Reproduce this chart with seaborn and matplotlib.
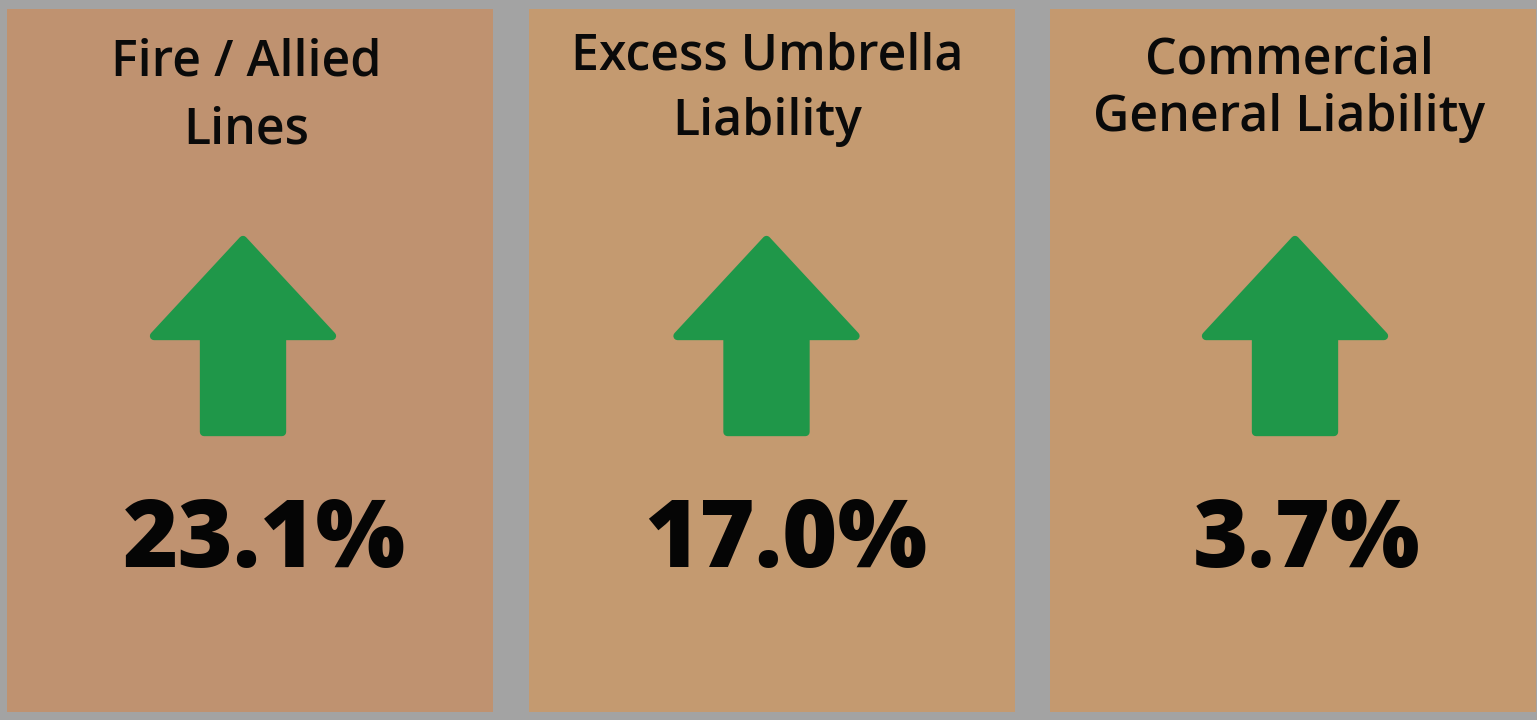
import matplotlib
matplotlib.use("Agg")
import matplotlib.pyplot as plt
from matplotlib.patches import Rectangle, Polygon
import seaborn as sns

# data
line_names = [["Fire / Allied", "Lines"],
              ["Excess Umbrella", "Liability"],
              ["Commercial", "General Liability"]]
changes = [23.1, 17.0, 3.7]
directions = ["up", "up", "up"]

# styles / layout
bg_color = "#a3a3a3"
card_colors = ["#bf9270", "#c49a70", "#c4996f"]
arrow_color = "#1f9749"
title_rows = [(62, 130), (56, 122), (60, 118)]
arrow_shift = [-7, -5, 2]

sns.set_style("white")
plt.rcParams["font.family"] = ["Open Sans", "DejaVu Sans"]

fig = plt.figure(figsize=(15.37, 7.2), dpi=100)
fig.patch.set_facecolor(bg_color)
ax = fig.add_axes([0, 0, 1, 1])
ax.set_xlim(0, 1537)
ax.set_ylim(720, 0)
ax.axis("off")

card_w, card_h, gap = 486, 703, 35.5
for i, (name, val, d) in enumerate(zip(line_names, changes, directions)):
    x0 = 7 + i * (card_w + gap)
    cx = x0 + card_w / 2
    ax.add_patch(Rectangle((x0, 9), card_w, card_h, facecolor=card_colors[i],
                           edgecolor="none"))

    # title, one row at a time
    for row, y in zip(name, title_rows[i]):
        ax.text(cx - 4, y, row, ha="center", va="center", fontsize=36,
                fontweight="semibold", color="#0a0a0a")

    # arrow (rounded corners through a round-joined outline)
    top, head_b, bot = 240, 336, 432
    hw, sw = 89, 39
    ax_x = cx + arrow_shift[i]
    if d == "down":
        top, bot = bot, top
        head_b = top - 96
    pts = [(ax_x, top), (ax_x + hw, head_b), (ax_x + sw, head_b), (ax_x + sw, bot),
           (ax_x - sw, bot), (ax_x - sw, head_b), (ax_x - hw, head_b)]
    ax.add_patch(Polygon(pts, closed=True, facecolor=arrow_color,
                         edgecolor=arrow_color, linewidth=6, joinstyle="round"))

    # value
    ax.text(cx + 14, 543, f"{val:.1f}%", ha="center", va="center",
            fontsize=68, fontweight="heavy", color="#050505")

fig.savefig("out.png", dpi=100, facecolor=bg_color)
